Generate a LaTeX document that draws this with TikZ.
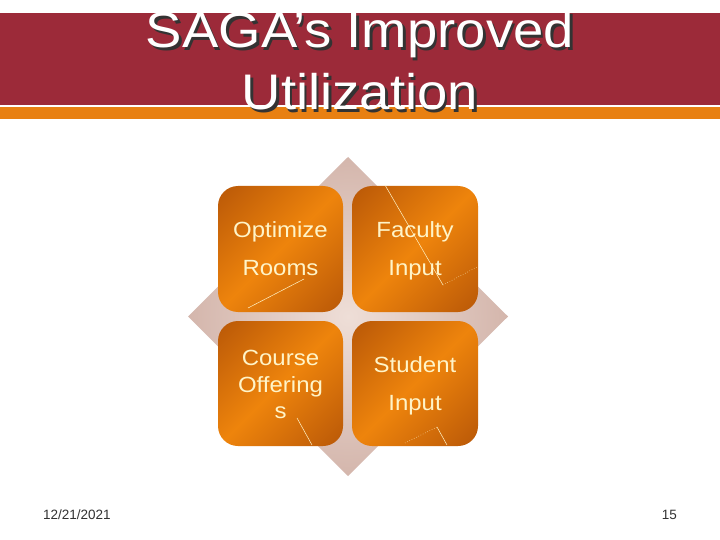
\documentclass[tikz,border=0pt]{standalone}
\usepackage{fontspec}
\setmainfont{Liberation Sans}
\usetikzlibrary{shapes.geometric}
\definecolor{bandred}{RGB}{156,42,57}
\definecolor{stripe}{RGB}{232,128,18}
\definecolor{orDark}{RGB}{190,92,8}
\definecolor{orLight}{RGB}{238,132,12}
\definecolor{cream}{RGB}{255,244,200}
\definecolor{diaOut}{RGB}{212,182,172}
\definecolor{diaIn}{RGB}{238,222,215}
\definecolor{foot}{RGB}{50,50,50}
\pgfdeclarehorizontalshading{tileshade}{100bp}{color(0bp)=(orDark); color(18bp)=(orDark); color(50bp)=(orLight); color(82bp)=(orDark); color(100bp)=(orDark)}
\tikzset{
  titletext/.style={anchor=base, inner sep=0pt, text=white, font=\fontsize{50}{50}\selectfont},
  boxtext/.style={anchor=base, inner sep=0pt, text=cream, font=\fontsize{22}{22}\selectfont},
  tile/.style={rounded corners=20pt, shading=tileshade, shading angle=-45},
  glint/.style={draw=cream, line width=0.5pt},
  glintdot/.style={draw=cream, line width=0.5pt, dotted},
  foottext/.style={anchor=base, inner sep=0pt, text=foot, font=\fontsize{13.5}{13.5}\selectfont}
}
\newcommand{\wide}[1]{\scalebox{1.09}[1]{#1}}
\newcommand{\shadowed}[1]{\makebox[0pt][l]{\hspace{2.3pt}\raisebox{-2.3pt}{\color{black!80}#1}}#1}
\begin{document}
\begin{tikzpicture}[x=1pt,y=1pt]
\useasboundingbox[fill=white] (0,0) rectangle (720,-540);
% header
\fill[bandred] (0,-13) rectangle (720,-105);
\fill[stripe] (0,-107.5) rectangle (720,-119);
% title with shadow
\node[titletext] (t1) at (360,-48) {\wide{\shadowed{SAGA’s Improved}}};
\node[titletext] (t2) at (360,-110) {\wide{\shadowed{Utilization}}};
% diamond
\shade[inner color=diaIn, outer color=diaOut] (348,-157) -- (508,-316.5) -- (348,-476) -- (188,-316.5) -- cycle;
% tiles
\shade[tile] (218,-186) rectangle (343,-312);
\shade[tile] (352,-186) rectangle (478,-312);
\shade[tile] (218,-321) rectangle (343,-446);
\shade[tile] (352,-321) rectangle (478,-446);
% glints
\draw[glint] (248,-308) -- (304,-279);
\draw[glint] (385,-185) -- (443,-285);
\draw[glintdot] (443,-285) -- (477,-267);
\draw[glint] (297,-418) -- (312,-445);
\draw[glintdot] (405,-443) -- (437,-427);
\draw[glint] (437,-427) -- (447,-445);
% tile texts
\node[boxtext] (o1) at (280.5,-237) {\wide{Optimize}};
\node[boxtext] (o2) at (280.5,-275) {\wide{Rooms}};
\node[boxtext] (f1) at (415,-237) {\wide{Faculty}};
\node[boxtext] (f2) at (415,-275) {\wide{Input}};
\node[boxtext] (c1) at (280.5,-365) {\wide{Course}};
\node[boxtext] (c2) at (280.5,-392) {\wide{Offering}};
\node[boxtext] (c3) at (280.5,-418) {\wide{s}};
\node[boxtext] (s1) at (415,-372) {\wide{Student}};
\node[boxtext] (s2) at (415,-410) {\wide{Input}};
% footer
\node[foottext, anchor=base west] (date) at (43,-519) {12/21/2021};
\node[foottext, anchor=base east] (page) at (677,-519) {15};
\end{tikzpicture}
\end{document}
